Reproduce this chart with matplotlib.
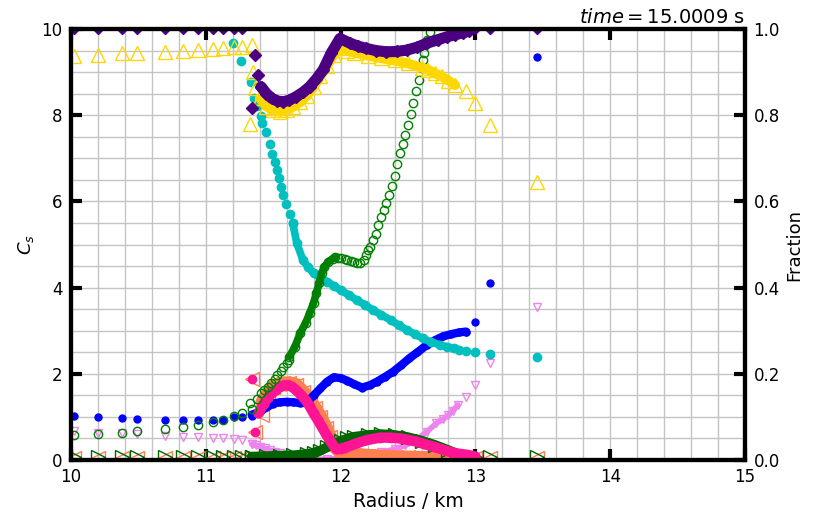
import matplotlib
matplotlib.use('Agg')
import matplotlib.pyplot as plt
from matplotlib.ticker import MultipleLocator

# radius points shared by the inner sparse zones and the outer sparse zones
r_inner = [10.02, 10.2, 10.38, 10.49, 10.70, 10.83, 10.94, 11.05, 11.125, 11.21, 11.27, 11.34]
r_outer = [12.93, 13.0, 13.11, 13.46]

# blue dots
blue_inner = [1.02, 1.00, 0.97, 0.95, 0.94, 0.93, 0.93, 0.93, 0.94, 0.99, 1.00, 1.02]
blue_band_r = [11.34, 11.40, 11.45, 11.50, 11.55, 11.60, 11.65, 11.70, 11.75, 11.80, 11.85, 11.90,
               11.95, 12.00, 12.05, 12.10, 12.16, 12.22, 12.27, 12.33, 12.39, 12.45, 12.51, 12.57,
               12.64, 12.70, 12.76, 12.82, 12.88, 12.93]
blue_band = [1.05, 1.12, 1.22, 1.31, 1.34, 1.35, 1.34, 1.32, 1.33, 1.50, 1.66, 1.82,
             1.92, 1.90, 1.84, 1.76, 1.68, 1.74, 1.82, 1.93, 2.05, 2.20, 2.36, 2.50,
             2.67, 2.78, 2.87, 2.92, 2.96, 2.98]
blue_outer = [2.98, 3.21, 4.10, 9.34]

# cyan dots
cyan_r = [11.20, 11.26, 11.335, 11.36, 11.38, 11.41, 11.42, 11.445, 11.475, 11.49, 11.51, 11.53,
          11.54, 11.56, 11.57, 11.595, 11.625, 11.645]
cyan = [9.67, 9.26, 8.78, 8.41, 8.21, 7.99, 7.81, 7.62, 7.33, 7.09, 6.92, 6.73,
        6.55, 6.34, 6.15, 5.94, 5.71, 5.49]
cyan_band_r = [11.645, 11.675, 11.72, 11.76, 11.80, 11.85, 11.90, 11.95, 12.0, 12.06, 12.12, 12.18,
               12.24, 12.30, 12.37, 12.43, 12.49, 12.55, 12.61, 12.67, 12.74, 12.79, 12.84, 12.88]
cyan_band = [5.49, 5.03, 4.64, 4.47, 4.33, 4.23, 4.14, 4.04, 3.94, 3.83, 3.71, 3.60,
             3.48, 3.37, 3.25, 3.13, 3.02, 2.92, 2.82, 2.74, 2.67, 2.63, 2.59, 2.56]
cyan_outer = [2.54, 2.51, 2.46, 2.40]

# purple diamonds
purple_top_r = [10.02, 10.2, 10.38, 10.49, 10.70, 10.83, 10.94, 11.05, 11.125, 11.21, 11.27, 13.0, 13.11, 13.46]
purple_top = [10.0, 10.0, 10.0, 10.0, 10.0, 10.0, 10.0, 10.0, 10.0, 10.0, 10.0, 10.0, 10.0, 10.0]
purple_r = [11.34, 11.365, 11.39, 11.41]
purple = [8.16, 9.40, 8.93, 8.66]
purple_band_r = [11.41, 11.45, 11.49, 11.53, 11.575, 11.62, 11.67, 11.72, 11.77, 11.82, 11.87, 11.93,
                 11.995, 12.07, 12.13, 12.19, 12.26, 12.34, 12.42, 12.49, 12.57, 12.64, 12.72, 12.79,
                 12.85, 12.91, 12.95]
purple_band = [8.66, 8.50, 8.39, 8.33, 8.31, 8.35, 8.43, 8.53, 8.66, 8.84, 9.05, 9.44,
               9.78, 9.67, 9.60, 9.55, 9.50, 9.47, 9.48, 9.51, 9.58, 9.67, 9.75, 9.82,
               9.87, 9.91, 9.95]

# gold triangles
gold_inner = [9.37, 9.40, 9.44, 9.44, 9.47, 9.49, 9.51, 9.54, 9.56, 9.58, 9.58, 9.63]
gold_r = [11.33, 11.35, 11.365, 11.40]
gold = [7.80, 9.00, 8.63, 8.40]
gold_band_r = [11.40, 11.45, 11.50, 11.55, 11.60, 11.65, 11.70, 11.75, 11.80, 11.85, 11.90, 11.95,
               12.0, 12.05, 12.1, 12.2, 12.3, 12.4, 12.5, 12.6, 12.65, 12.7, 12.75, 12.8, 12.85]
gold_band = [8.40, 8.20, 8.12, 8.08, 8.12, 8.20, 8.30, 8.45, 8.65, 8.90, 9.15, 9.40,
             9.57, 9.50, 9.45, 9.38, 9.32, 9.27, 9.20, 9.10, 9.05, 8.97, 8.90, 8.80, 8.70]
gold_outer = [8.55, 8.28, 7.77, 6.46]

# green hollow circles
green_inner = [0.58, 0.60, 0.62, 0.67, 0.71, 0.76, 0.81, 0.89, 0.94, 1.02, 1.10, 1.18]
green_r = [11.33, 11.38, 11.41, 11.43, 11.46, 11.48, 11.51, 11.53, 11.555, 11.575, 11.60, 11.62]
green = [1.32, 1.42, 1.55, 1.62, 1.70, 1.78, 1.88, 1.97, 2.06, 2.16, 2.24, 2.32]
green_band_r = [11.62, 11.66, 11.70, 11.74, 11.77, 11.80, 11.82, 11.84, 11.86, 11.88, 11.91, 11.94, 11.96]
green_band = [2.40, 2.62, 2.94, 3.18, 3.40, 3.65, 3.87, 4.10, 4.33, 4.48, 4.60, 4.67, 4.70]
green_rise_r = [11.98, 12.0, 12.03, 12.05, 12.08, 12.10, 12.12, 12.14, 12.17, 12.19, 12.205, 12.22, 12.24,
                12.26, 12.28, 12.30, 12.32, 12.34, 12.36, 12.38, 12.40, 12.42, 12.44, 12.46, 12.48,
                12.50, 12.52, 12.54, 12.56, 12.58, 12.60, 12.61, 12.62, 12.64, 12.66]
green_rise = [4.69, 4.68, 4.66, 4.64, 4.62, 4.60, 4.58, 4.56, 4.64, 4.75, 4.87, 4.95, 5.10,
              5.25, 5.45, 5.64, 5.80, 5.96, 6.15, 6.36, 6.60, 6.86, 7.12, 7.34, 7.55,
              7.78, 8.02, 8.28, 8.55, 8.82, 9.10, 9.28, 9.45, 9.74, 9.94]

# violet down triangles
violet_inner = [0.68, 0.63, 0.62, 0.60, 0.56, 0.54, 0.54, 0.52, 0.50, 0.48, 0.46, 0.37]
violet_band_r = [11.34, 11.37, 11.40, 11.44, 11.475, 11.51, 11.55, 11.59, 11.62, 11.67, 11.72, 11.8,
                 11.9, 12.0, 12.1, 12.2, 12.3, 12.4, 12.48, 12.56, 12.64, 12.71, 12.76, 12.80,
                 12.83, 12.87]
violet_band = [0.37, 0.34, 0.31, 0.27, 0.23, 0.19, 0.16, 0.11, 0.08, 0.05, 0.03, 0.02,
               0.02, 0.04, 0.08, 0.13, 0.18, 0.25, 0.34, 0.46, 0.66, 0.85, 0.95, 1.04,
               1.14, 1.28]
violet_outer = [1.46, 1.74, 2.24, 3.55]

# deep pink dots
pink_r = [11.34, 11.365]
pink = [1.89, 0.66]
pink_band_r = [11.39, 11.43, 11.46, 11.49, 11.52, 11.55, 11.58, 11.61, 11.64, 11.67, 11.70, 11.74,
               11.77, 11.80, 11.83, 11.86, 11.89, 11.92, 11.95, 11.97, 12.0, 12.03, 12.08, 12.12,
               12.19, 12.29, 12.37, 12.44, 12.50, 12.56, 12.62, 12.69, 12.75, 12.81, 12.87, 12.94, 13.0]
pink_band = [1.08, 1.31, 1.44, 1.55, 1.63, 1.70, 1.73, 1.74, 1.70, 1.62, 1.53, 1.39,
             1.25, 1.08, 0.93, 0.77, 0.61, 0.46, 0.32, 0.25, 0.26, 0.29, 0.34, 0.39,
             0.46, 0.52, 0.52, 0.50, 0.47, 0.43, 0.37, 0.31, 0.25, 0.19, 0.15, 0.12, 0.08]

# coral left triangles
coral_inner = [0.05, 0.05, 0.05, 0.05, 0.05, 0.05, 0.05, 0.05, 0.05, 0.05, 0.05, 0.05]
coral_r = [11.34, 11.365, 11.415]
coral = [1.89, 0.66, 1.04]
coral_band_r = [11.42, 11.46, 11.50, 11.54, 11.575, 11.62, 11.67, 11.72, 11.77, 11.81, 11.85, 11.89,
                11.92, 11.95, 11.97, 12.0, 12.1, 12.2, 12.3, 12.4, 12.5, 12.6, 12.7, 12.8]
coral_band = [1.35, 1.55, 1.70, 1.76, 1.78, 1.78, 1.74, 1.58, 1.39, 1.20, 1.00, 0.75,
              0.54, 0.35, 0.27, 0.18, 0.12, 0.10, 0.08, 0.07, 0.06, 0.05, 0.04, 0.03]
coral_outer = [0.05, 0.05, 0.05, 0.05]

# dark green right triangles
dgreen_inner = [0.06, 0.06, 0.06, 0.06, 0.06, 0.06, 0.06, 0.06, 0.06, 0.06, 0.06, 0.06]
dgreen_band_r = [11.34, 11.45, 11.55, 11.65, 11.75, 11.8, 11.85, 11.9, 11.95, 12.0, 12.05, 12.1,
                 12.2, 12.3, 12.4, 12.5, 12.6, 12.7, 12.8, 12.86]
dgreen_band = [0.08, 0.09, 0.10, 0.11, 0.14, 0.17, 0.22, 0.30, 0.38, 0.44, 0.50, 0.54,
               0.58, 0.60, 0.58, 0.53, 0.45, 0.35, 0.23, 0.15]
dgreen_outer = [0.10, 0.07, 0.06, 0.06]

# thin line along the top
top_r = [11.34, 13.46]
top_c = [9.97, 9.97]


def band(ax, r, c, color, lw, z):
    ax.plot(r, c, '-', color=color, lw=lw, solid_capstyle='round', solid_joinstyle='round', zorder=z)


fig = plt.figure(figsize=(8.2, 5.14), dpi=100)
ax = fig.add_axes([0.0866, 0.105, 0.822, 0.8386])

# violet
band(ax, violet_band_r, violet_band, 'violet', 4, 2)
ax.plot(r_inner + violet_band_r + r_outer, violet_inner + violet_band + violet_outer, 'v', ls='none',
        mfc='none', mec='violet', ms=6, mew=1, zorder=2)
# coral
band(ax, coral_band_r, coral_band, 'coral', 10, 3)
ax.plot(r_inner[:-1] + coral_r + coral_band_r + r_outer, coral_inner[:-1] + coral + coral_band + coral_outer,
        '<', ls='none', mfc='none', mec='coral', ms=10, mew=1, zorder=3)
# dark green
band(ax, dgreen_band_r, dgreen_band, 'darkgreen', 7, 4)
ax.plot(r_inner + dgreen_band_r + r_outer, dgreen_inner + dgreen_band + dgreen_outer, '>', ls='none',
        mfc='none', mec='darkgreen', ms=10, mew=1, zorder=4)
# blue
band(ax, blue_band_r, blue_band, 'blue', 6, 5)
ax.plot(r_inner + blue_band_r + r_outer, blue_inner + blue_band + blue_outer, 'o', ls='none',
        color='blue', ms=5, zorder=5)
# pink
band(ax, pink_band_r, pink_band, 'deeppink', 7.5, 6)
ax.plot(pink_r + pink_band_r, pink + pink_band, 'o', ls='none', color='deeppink', ms=6, zorder=6)
# cyan
band(ax, cyan_band_r, cyan_band, 'c', 5.5, 7)
ax.plot(cyan_r + cyan_band_r + r_outer, cyan + cyan_band + cyan_outer, 'o', ls='none',
        color='c', ms=6, zorder=7)
# green hollow circles
band(ax, green_band_r, green_band, 'green', 5.5, 8)
ax.plot(r_inner + green_r + green_band_r + green_rise_r, green_inner + green + green_band + green_rise,
        'o', ls='none', mfc='none', mec='green', ms=6, mew=1, zorder=8)
# gold
band(ax, gold_band_r, gold_band, 'gold', 7, 9)
ax.plot(r_inner + gold_r + gold_band_r + r_outer, gold_inner + gold + gold_band + gold_outer, '^', ls='none',
        mfc='none', mec='gold', ms=10, mew=1, zorder=9)
# purple
band(ax, purple_band_r, purple_band, 'indigo', 8, 10)
ax.plot(purple_r + purple_band_r, purple + purple_band, 'D', ls='none', color='indigo', ms=6.5, zorder=10)
ax.plot(purple_top_r, purple_top, 'D', ls='none', color='indigo', ms=5, zorder=2)
ax.plot(top_r, top_c, '-', color='rosybrown', lw=1.5, zorder=2)

ax.set_xlim(10, 15)
ax.set_ylim(0, 10)
ax.xaxis.set_major_locator(MultipleLocator(1))
ax.xaxis.set_minor_locator(MultipleLocator(0.2))
ax.yaxis.set_major_locator(MultipleLocator(2))
ax.yaxis.set_minor_locator(MultipleLocator(0.5))
ax.grid(which='both', color='#c4c4c4', lw=1, zorder=0)
ax.set_axisbelow(True)
ax.tick_params(which='major', direction='in', length=8, width=3, top=True, labelsize=12, pad=6)
ax.tick_params(which='minor', length=0)
ax.set_xlabel('Radius / km', fontsize=13.5)
ax.set_ylabel('$C_s$', fontsize=13)
ax.set_title('$time = 15.0009$ s', loc='right', fontsize=14, pad=4)

ax2 = ax.twinx()
ax2.set_ylim(0, 1)
ax2.yaxis.set_major_locator(MultipleLocator(0.2))
ax2.tick_params(which='major', direction='in', length=8, width=3, labelsize=12, pad=6)
ax2.set_ylabel('Fraction', fontsize=13)

for a in (ax, ax2):
    for s in a.spines.values():
        s.set_linewidth(3)

plt.savefig('out.png', dpi=100)
